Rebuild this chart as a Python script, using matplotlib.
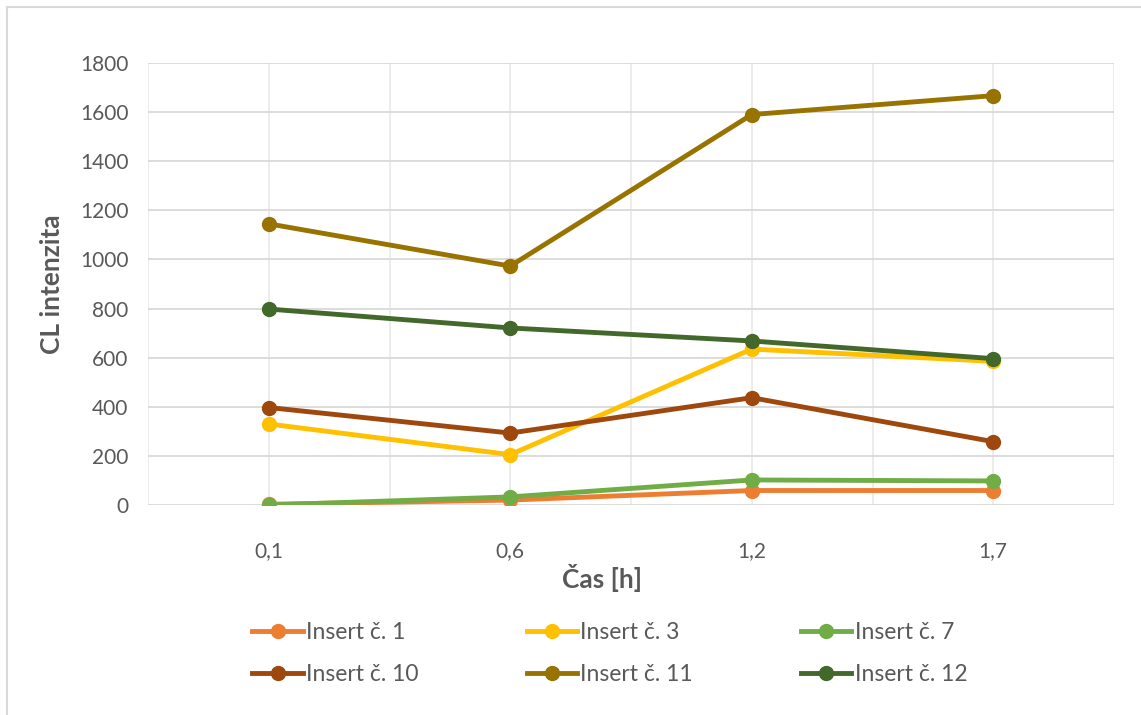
import matplotlib
matplotlib.use("Agg")
import matplotlib.pyplot as plt
from matplotlib.lines import Line2D

plt.rcParams['font.family'] = ['Lato', 'DejaVu Sans']

# Data
times = ["0,1", "0,6", "1,2", "1,7"]
series_names = ["Insert č. 1", "Insert č. 3", "Insert č. 7",
                "Insert č. 10", "Insert č. 11", "Insert č. 12"]
insert_1 = [3, 20, 59, 59]
insert_3 = [330, 205, 635, 585]
insert_7 = [0, 33, 102, 98]
insert_10 = [397, 293, 437, 258]
insert_11 = [1145, 973, 1590, 1667]
insert_12 = [798, 721, 668, 596]
colors = ["#ED7D31", "#FFC000", "#70AD47", "#9E480E", "#997300", "#43682B"]
y_ticks = [0, 200, 400, 600, 800, 1000, 1200, 1400, 1600, 1800]

W, H = 1141, 715
fig = plt.figure(figsize=(W / 100, H / 100), dpi=100)
ax = fig.add_axes([148 / W, 1 - 505 / H, (1114 - 148) / W, (505 - 63) / H])

text_col = "#595959"
grid_col = "#D9D9D9"

xs = list(range(len(times)))
all_series = [insert_1, insert_3, insert_7, insert_10, insert_11, insert_12]
for vals, name, c in zip(all_series, series_names, colors):
    ax.plot(xs, vals, color=c, lw=3.5, marker="o", ms=10, label=name,
            solid_capstyle="round", zorder=3)

ax.set_xlim(-0.5, len(times) - 0.5)
ax.set_ylim(0, 1800)
ax.set_yticks(y_ticks)
ax.set_yticklabels([str(v) for v in y_ticks])
ax.set_xticks(xs)
ax.set_xticklabels(times)

# Gridlines: horizontal at every tick, vertical at every half category
for v in y_ticks:
    ax.axhline(v, color=grid_col, lw=1.3, zorder=1)
for k in range(2 * len(times) + 1):
    ax.axvline(-0.5 + 0.5 * k, color="#EBEBEB", lw=1.3, zorder=0.9)

for s in ax.spines.values():
    s.set_visible(False)
ax.tick_params(axis="both", length=0, colors=text_col, labelsize=15)
ax.tick_params(axis="x", pad=26)
ax.tick_params(axis="y", pad=14)

fig.text(52 / W, 1 - 284 / H, "CL intenzita", rotation=90, ha="center",
         va="center", fontsize=19, fontweight="bold", color=text_col)
fig.text(602 / W, 1 - 578 / H, "Čas [h]", ha="center", va="center",
         fontsize=19, fontweight="bold", color=text_col)

# Legend in two rows, three columns (entries filled row by row)
handles = [Line2D([0], [0], color=c, lw=3.5, marker="o", ms=10)
           for c in colors]
order = [0, 3, 1, 4, 2, 5]
leg = fig.legend([handles[i] for i in order],
                 [series_names[i] for i in order], ncol=3, frameon=False,
                 loc="upper left", bbox_to_anchor=(241 / W, 1 - 611 / H),
                 fontsize=16.5, handlelength=2.2, handletextpad=0.15,
                 columnspacing=4.7, labelspacing=0.88, borderpad=0)
for t in leg.get_texts():
    t.set_color(text_col)

# Chart area border (top and left edges)
fig.add_artist(Line2D([7 / W, 1], [1 - 7 / H, 1 - 7 / H], color=grid_col,
                      lw=1.5, transform=fig.transFigure))
fig.add_artist(Line2D([7 / W, 7 / W], [0, 1 - 7 / H], color=grid_col,
                      lw=1.5, transform=fig.transFigure))

fig.savefig("out.png", dpi=100, facecolor="white")
